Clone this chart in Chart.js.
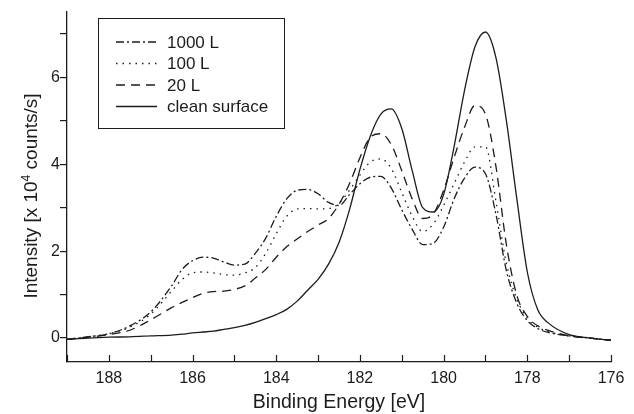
<!DOCTYPE html>
<html>
<head>
<meta charset="utf-8">
<script src="https://cdn.jsdelivr.net/npm/chart.js@4/dist/chart.umd.min.js"></script>
<style>
    body { margin: 0; background: #fff; }
    #wrap { width: 634px; height: 414px; }
</style>
</head>
<body>
<div id="wrap"><canvas id="xps" width="634" height="414"></canvas></div>
<script>
// Binding energy grid (eV)
const energies = [189, 188.5, 188, 187.5, 187, 186.5, 186.25, 186, 185.75, 185.5, 185.25, 185,
    184.75, 184.5, 184.25, 184, 183.75, 183.5, 183.25, 183, 182.75, 182.5, 182.25, 182,
    181.75, 181.5, 181.25, 181, 180.75, 180.5, 180.25, 180, 179.75, 179.5, 179.25, 179,
    178.75, 178.5, 178.25, 178, 177.75, 177.5, 177, 176.5, 176];

// Intensities (x 10^4 counts/s)
const dose1000 = [-0.03, 0.03, 0.1, 0.28, 0.6, 1.2, 1.58, 1.78, 1.86, 1.84, 1.75, 1.68,
    1.7, 1.95, 2.3, 2.8, 3.2, 3.4, 3.42, 3.32, 3.12, 3.05, 3.3, 3.55,
    3.7, 3.72, 3.45, 2.95, 2.5, 2.15, 2.18, 2.55, 3.2, 3.68, 3.93, 3.78,
    2.85, 1.55, 0.8, 0.4, 0.22, 0.13, 0.05, 0.0, -0.05];
const dose100 = [-0.03, 0.03, 0.1, 0.25, 0.55, 1.08, 1.35, 1.5, 1.52, 1.5, 1.46, 1.45,
    1.5, 1.62, 1.95, 2.4, 2.8, 2.97, 2.98, 2.97, 2.98, 3.1, 3.4, 3.75,
    4.05, 4.12, 3.9, 3.35, 2.8, 2.45, 2.62, 3.05, 3.55, 4.05, 4.4, 4.4,
    3.15, 1.72, 0.9, 0.45, 0.25, 0.15, 0.05, 0.0, -0.05];
const dose20 = [-0.03, 0.02, 0.08, 0.18, 0.42, 0.7, 0.82, 0.93, 1.03, 1.07, 1.08, 1.12,
    1.2, 1.38, 1.58, 1.86, 2.1, 2.28, 2.45, 2.6, 2.75, 3.08, 3.55, 4.15,
    4.62, 4.7, 4.45, 3.85, 3.2, 2.75, 2.85, 3.4, 4.15, 4.85, 5.35, 5.15,
    3.95, 2.15, 0.98, 0.5, 0.28, 0.18, 0.05, 0.0, -0.05];
const cleanSurface = [-0.03, 0.0, 0.02, 0.03, 0.05, 0.07, 0.09, 0.12, 0.14, 0.16, 0.2, 0.24,
    0.29, 0.36, 0.45, 0.54, 0.66, 0.85, 1.1, 1.35, 1.7, 2.2, 2.95, 3.88,
    4.65, 5.15, 5.27, 4.82, 3.85, 3.0, 2.9, 3.3, 4.4, 5.7, 6.7, 7.04,
    6.45, 5.0, 3.2, 1.52, 0.65, 0.35, 0.08, 0.0, -0.05];

const seriesLabels = ['1000 L', '100 L', '20 L', 'clean surface'];

// Axis ticks
const xTickValues = [189, 188, 187, 186, 185, 184, 183, 182, 181, 180, 179, 178, 177, 176];
const xTickLabels = [188, 186, 184, 182, 180, 178, 176];
const yTickValues = [0, 1, 2, 3, 4, 5, 6, 7];
const yTickLabels = [0, 2, 4, 6];

const ink = '#1c1c1c';
const font = 'Liberation Sans, Arial, Helvetica, sans-serif';

function toPoints(values) {
    return energies.map((e, i) => ({ x: e, y: values[i] }));
}

function makeSet(label, values, dash) {
    return {
        label: label,
        data: toPoints(values),
        borderColor: ink,
        borderWidth: 1.3,
        borderDash: dash,
        pointRadius: 0,
        cubicInterpolationMode: 'monotone',
        fill: false
    };
}

// x ticks point into the plot, drawn by hand
const innerTicks = {
    id: 'innerTicks',
    afterDraw(chart) {
        const ctx = chart.ctx;
        const xs = chart.scales.x;
        const bottom = chart.chartArea.bottom;
        ctx.save();
        ctx.strokeStyle = ink;
        ctx.lineWidth = 1.2;
        xTickValues.forEach(v => {
            const px = Math.round(xs.getPixelForValue(v)) + 0.5;
            ctx.beginPath();
            ctx.moveTo(px, bottom);
            ctx.lineTo(px, bottom - 7);
            ctx.stroke();
        });
        ctx.restore();
    }
};

// y title with a real superscript
const yTitle = {
    id: 'yTitle',
    afterDraw(chart) {
        const ctx = chart.ctx;
        const parts = [['Intensity [x 10', 19, 0], ['4', 12, 7], [' counts/s]', 19, 0]];
        ctx.save();
        ctx.translate(37, 196);
        ctx.rotate(-Math.PI / 2);
        ctx.fillStyle = ink;
        ctx.textBaseline = 'alphabetic';
        let total = 0;
        parts.forEach(p => { ctx.font = p[1] + 'px ' + font; total += ctx.measureText(p[0]).width; });
        let x = -total / 2;
        parts.forEach(p => {
            ctx.font = p[1] + 'px ' + font;
            ctx.fillText(p[0], x, -p[2]);
            x += ctx.measureText(p[0]).width;
        });
        ctx.restore();
    }
};

// legend box in the upper left
const boxLegend = {
    id: 'boxLegend',
    afterDraw(chart) {
        const ctx = chart.ctx;
        const left = 98, top = 18, w = 186, h = 110;
        ctx.save();
        ctx.strokeStyle = ink;
        ctx.lineWidth = 1;
        ctx.strokeRect(left + 0.5, top + 0.5, w, h);
        ctx.font = '17px ' + font;
        ctx.fillStyle = ink;
        ctx.textBaseline = 'middle';
        chart.data.datasets.forEach((ds, i) => {
            const y = 42 + i * 21.5;
            ctx.setLineDash(ds.borderDash || []);
            ctx.lineWidth = 1.3;
            ctx.beginPath();
            ctx.moveTo(116, y);
            ctx.lineTo(157, y);
            ctx.stroke();
            ctx.setLineDash([]);
            ctx.fillText(ds.label, 167, y + 1);
        });
        ctx.restore();
    }
};

new Chart(document.getElementById('xps'), {
    type: 'line',
    data: {
        datasets: [
            makeSet(seriesLabels[0], dose1000, [8, 3, 2, 3]),
            makeSet(seriesLabels[1], dose100, [1.5, 5]),
            makeSet(seriesLabels[2], dose20, [9, 6]),
            makeSet(seriesLabels[3], cleanSurface, [])
        ]
    },
    options: {
        responsive: false,
        animation: false,
        layout: { padding: { top: 12, right: 23, left: 0, bottom: 0 } },
        plugins: {
            legend: { display: false },
            tooltip: { enabled: false }
        },
        scales: {
            x: {
                type: 'linear',
                min: 176,
                max: 189,
                reverse: true,
                afterFit: s => { s.height = 52; },
                afterBuildTicks: s => { s.ticks = xTickValues.map(v => ({ value: v })); },
                grid: { display: false, drawTicks: false },
                border: { display: true, color: ink, width: 1.3 },
                ticks: {
                    autoSkip: false,
                    maxRotation: 0,
                    padding: 7,
                    color: ink,
                    font: { family: font, size: 16 },
                    callback: v => xTickLabels.includes(v) ? String(v) : ''
                },
                title: {
                    display: true,
                    text: 'Binding Energy [eV]',
                    color: ink,
                    font: { family: font, size: 19.5 },
                    padding: { top: 0, bottom: 0 }
                }
            },
            y: {
                min: -0.55,
                max: 7.5,
                afterFit: s => { s.width = 67; },
                afterBuildTicks: s => { s.ticks = yTickValues.map(v => ({ value: v })); },
                grid: {
                    display: true,
                    drawOnChartArea: false,
                    drawTicks: true,
                    tickLength: 7,
                    color: ink,
                    lineWidth: 1.2
                },
                border: { display: true, color: ink, width: 1.3 },
                ticks: {
                    autoSkip: false,
                    padding: 0,
                    color: ink,
                    font: { family: font, size: 16 },
                    callback: v => yTickLabels.includes(v) ? String(v) : ''
                },
                title: { display: false }
            }
        }
    },
    plugins: [innerTicks, yTitle, boxLegend]
});
</script>
</body>
</html>
